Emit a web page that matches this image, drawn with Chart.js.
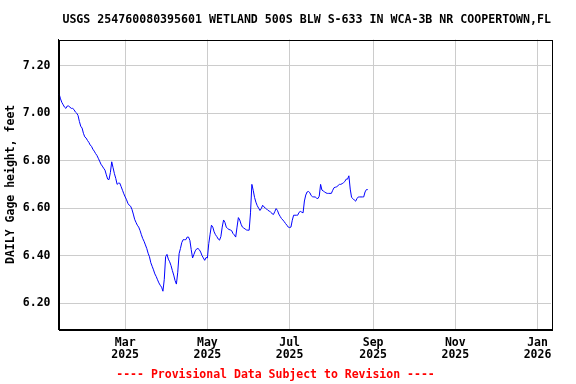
<!DOCTYPE html>
<html>
<head>
<meta charset="utf-8">
<script src="https://cdn.jsdelivr.net/npm/chart.js@4/dist/chart.umd.min.js"></script>
<style>
  html, body { margin: 0; padding: 0; background: #fff; }
  canvas { display: block; }
</style>
</head>
<body>
<canvas id="gage" width="576" height="384"></canvas>
<script>
// daily gage height (feet), one value per day starting at firstDay
var firstDay = "2025-01-11";
var gageHeight = [
  7.08, 7.06, 7.045, 7.035, 7.025, 7.02, 7.03, 7.03, 7.025, 7.02,
  7.02, 7.015, 7.005, 7.00, 6.99, 6.965, 6.945, 6.937, 6.915, 6.90,
  6.895, 6.885, 6.877, 6.866, 6.86, 6.848, 6.84, 6.83, 6.822, 6.81,
  6.798, 6.785, 6.777, 6.768, 6.76, 6.74, 6.722, 6.72, 6.75, 6.795,
  6.77, 6.745, 6.725, 6.70, 6.705, 6.705, 6.69, 6.675, 6.66, 6.647,
  6.635, 6.62, 6.612, 6.608, 6.595, 6.575, 6.553, 6.54, 6.528, 6.52,
  6.506, 6.488, 6.472, 6.46, 6.445, 6.43, 6.41, 6.395, 6.37, 6.355,
  6.34, 6.323, 6.312, 6.298, 6.285, 6.275, 6.267, 6.25, 6.30, 6.395,
  6.405, 6.385, 6.374, 6.358, 6.337, 6.318, 6.295, 6.28, 6.33, 6.408,
  6.43, 6.455, 6.467, 6.467, 6.467, 6.478, 6.478, 6.464, 6.425, 6.39,
  6.405, 6.42, 6.428, 6.43, 6.425, 6.415, 6.40, 6.39, 6.38, 6.392,
  6.39, 6.45, 6.49, 6.528, 6.52, 6.50, 6.488, 6.48, 6.47, 6.465,
  6.48, 6.52, 6.55, 6.54, 6.52, 6.514, 6.51, 6.508, 6.505, 6.493,
  6.487, 6.478, 6.52, 6.56, 6.55, 6.532, 6.52, 6.516, 6.512, 6.508,
  6.507, 6.507, 6.58, 6.70, 6.675, 6.645, 6.625, 6.61, 6.60, 6.59,
  6.598, 6.612, 6.605, 6.60, 6.596, 6.59, 6.588, 6.582, 6.577, 6.573,
  6.585, 6.598, 6.59, 6.575, 6.565, 6.556, 6.55, 6.543, 6.535, 6.528,
  6.52, 6.518, 6.52, 6.549, 6.57, 6.57, 6.57, 6.57, 6.582, 6.586,
  6.583, 6.58, 6.63, 6.655, 6.668, 6.67, 6.665, 6.653, 6.648, 6.647,
  6.647, 6.642, 6.64, 6.65, 6.70, 6.676, 6.672, 6.668, 6.664, 6.662,
  6.662, 6.662, 6.662, 6.675, 6.686, 6.688, 6.69, 6.695, 6.70, 6.70,
  6.703, 6.707, 6.712, 6.722, 6.722, 6.736, 6.68, 6.645, 6.64, 6.634,
  6.629, 6.64, 6.647, 6.647, 6.647, 6.647, 6.647, 6.668, 6.678, 6.678
];

// x axis ticks (month starts) and their two-line labels
var xTickDates = ["2025-03-01", "2025-05-01", "2025-07-01", "2025-09-01", "2025-11-01", "2026-01-01"];
var xTickLabels = [["Mar", "2025"], ["May", "2025"], ["Jul", "2025"], ["Sep", "2025"], ["Nov", "2025"], ["Jan", "2026"]];
var yTicks = [6.20, 6.40, 6.60, 6.80, 7.00, 7.20];

var titleText = "USGS 254760080395601 WETLAND 500S BLW S-633 IN WCA-3B NR COOPERTOWN,FL";
var yTitle = "DAILY Gage height, feet";
var footText = "---- Provisional Data Subject to Revision ----";

// days since 2025-01-01
function dayNum(s) {
  var p = s.split("-");
  return (Date.UTC(+p[0], +p[1] - 1, +p[2]) - Date.UTC(2025, 0, 1)) / 86400000;
}

var start = dayNum(firstDay);
var points = gageHeight.map(function (v, i) { return { x: start + i, y: v }; });
var xTicks = xTickDates.map(dayNum);

var mono = '"DejaVu Sans Mono", "Liberation Mono", monospace';

// black frame round the plot area
var frame = {
  id: "frame",
  afterDraw: function (c) {
    var a = c.chartArea, ctx = c.ctx;
    ctx.save();
    ctx.strokeStyle = "#000";
    ctx.lineWidth = 1;
    ctx.strokeRect(Math.round(a.left) + 0.5, Math.round(a.top) + 0.5, Math.round(a.right - a.left), Math.round(a.bottom - a.top));
    ctx.restore();
  }
};

new Chart(document.getElementById("gage").getContext("2d"), {
  type: "line",
  data: {
    datasets: [{
      data: points,
      borderColor: "#0000ff",
      borderWidth: 1,
      pointRadius: 0,
      tension: 0,
      fill: false
    }]
  },
  options: {
    responsive: false,
    animation: false,
    layout: { padding: { left: 0, right: 25, top: 0, bottom: 0 } },
    plugins: {
      legend: { display: false },
      tooltip: { enabled: false },
      title: {
        display: true,
        align: "end",
        text: titleText,
        color: "#000",
        font: { family: mono, size: 11.6, weight: "bold", lineHeight: 1.2 },
        padding: { top: 13, bottom: 12.6 }
      },
      subtitle: {
        display: true,
        position: "bottom",
        text: footText,
        color: "#ff0000",
        font: { family: mono, size: 11.5, weight: "bold", lineHeight: 1.2 },
        padding: { top: 2, bottom: 2 }
      }
    },
    scales: {
      x: {
        type: "linear",
        min: 9.5,
        max: 375,
        afterBuildTicks: function (s) { s.ticks = xTicks.map(function (v) { return { value: v }; }); },
        afterFit: function (s) { s.height = 37; },
        grid: { color: "#cccccc", drawTicks: false },
        border: { color: "#000" },
        ticks: {
          autoSkip: false,
          maxRotation: 0,
          padding: 7,
          color: "#000",
          font: { family: mono, size: 11.5, weight: "bold", lineHeight: 1.1 },
          callback: function (v, i) { return xTickLabels[i]; }
        }
      },
      y: {
        min: 6.09,
        max: 7.31,
        afterBuildTicks: function (s) { s.ticks = yTicks.map(function (v) { return { value: v }; }); },
        afterFit: function (s) { s.width = 58.5; },
        grid: { color: "#cccccc", drawTicks: false },
        border: { color: "#000" },
        title: {
          display: true,
          text: yTitle,
          color: "#000",
          font: { family: mono, size: 11.5, weight: "bold", lineHeight: 1.2 },
          padding: { top: 4, bottom: 0 }
        },
        ticks: {
          padding: 8,
          color: "#000",
          font: { family: mono, size: 11.5, weight: "bold" },
          callback: function (v) { return v.toFixed(2); }
        }
      }
    }
  },
  plugins: [frame]
});
</script>
</body>
</html>
